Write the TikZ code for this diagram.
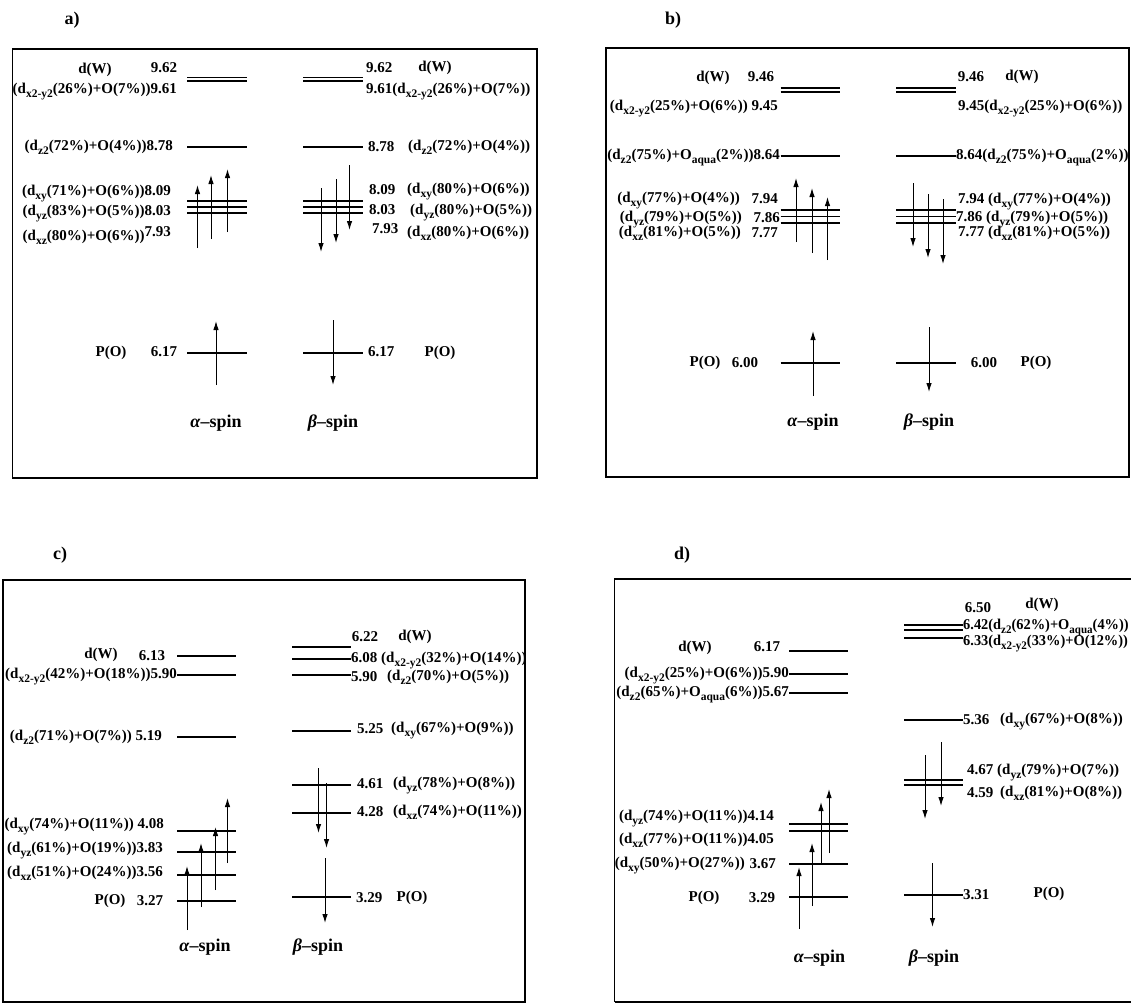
\documentclass[tikz,border=0pt]{standalone}
\usepackage{fontspec}
\setmainfont{Liberation Serif}
\usetikzlibrary{arrows.meta}
\newcommand{\sbs}[1]{\raisebox{-4pt}[0pt][0pt]{\fontsize{11.5}{12}\selectfont #1}}
\newcommand{\orb}[4]{(d\sbs{#1}(#2\%)+O#3(#4\%))}
\newcommand{\aq}{\sbs{aqua}}

\begin{document}
\begin{tikzpicture}[x=1pt,y=-1pt,
    every node/.style={font=\fontsize{15}{16}\selectfont\bfseries, inner sep=0pt},
    level/.style={line width=1.7pt},
    frame/.style={line width=1.8pt},
    up/.style={-{Latex[length=9pt,width=5.5pt]}, line width=1pt},
    down/.style={-{Latex[length=9pt,width=5.5pt]}, line width=1pt},
    spin/.style={font=\fontsize{18}{20}\selectfont\bfseries},
    panel/.style={font=\fontsize{18}{20}\selectfont\bfseries}]
    \useasboundingbox (0,0) rectangle (1131,1005);

    \node[panel] (pa) at (72,20) {a)};
    \draw[frame] (12.5,49) rectangle (537,478);
    \draw[level] (187,77.5) -- (247,77.5) (187,81.2) -- (247,81.2) (187,147) -- (247,147)
        (187,201) -- (247,201) (187,207) -- (247,207) (187,213) -- (247,213) (187,353) -- (247,353);
    \draw[level] (303,77.5) -- (363,77.5) (303,81.2) -- (363,81.2) (303,147) -- (363,147)
        (303,201) -- (363,201) (303,207) -- (363,207) (303,213) -- (363,213) (303,353) -- (363,353);
    \draw[up] (197.5,248) -- (197.5,185);
    \draw[up] (211,239) -- (211,175);
    \draw[up] (227.5,232) -- (227.5,169);
    \draw[up] (216,385) -- (216,321);
    \draw[down] (321,188) -- (321,252);
    \draw[down] (336,179) -- (336,243);
    \draw[down] (349.5,165) -- (349.5,230);
    \draw[down] (333,320) -- (333,385);
    \node (aw1) at (95,70) {d(W)};
    \node (ae1) at (164,68) {9.62};
    \node[anchor=east] (ax1) at (177,90) {\orb{x2-y2}{26}{}{7}9.61};
    \node[anchor=east] (az1) at (173,147) {\orb{z2}{72}{}{4}8.78};
    \node[anchor=east] (axy1) at (171,192) {\orb{xy}{71}{}{6}8.09};
    \node[anchor=east] (ayz1) at (171,212) {\orb{yz}{83}{}{5}8.03};
    \node[anchor=east] (axz1) at (171,235) {\orb{xz}{80}{}{6}\raisebox{4pt}{7.93}};
    \node (ap1) at (111,353) {P(O)};
    \node (an1) at (164,352) {6.17};
    \node[anchor=west] (ae2) at (366,68) {9.62};
    \node (aw2) at (435,68) {d(W)};
    \node[anchor=west] (ax2) at (366,90) {9.61\orb{x2-y2}{26}{}{7}};
    \node[anchor=west] (an2) at (368,147) {8.78};
    \node[anchor=west] (az2) at (408,147) {\orb{z2}{72}{}{4}};
    \node[anchor=west] (an3) at (369,190) {8.09};
    \node[anchor=west] (axy2) at (407,190) {\orb{xy}{80}{}{6}};
    \node[anchor=west] (an4) at (369,210) {8.03};
    \node[anchor=west] (ayz2) at (410,211) {\orb{yz}{80}{}{5}};
    \node[anchor=west] (an5) at (372,229) {7.93};
    \node[anchor=west] (axz2) at (407,233) {\orb{xz}{80}{}{6}};
    \node[anchor=west] (an6) at (368,352) {6.17};
    \node (ap2) at (440,353) {P(O)};
    \node[spin] (asa) at (216,423) {\textit{α}--spin};
    \node[spin] (asb) at (333,423) {\textit{β}--spin};

    \node[panel] (pb) at (673,20) {b)};
    \draw[frame] (606,48) rectangle (1129,477);
    \draw[level] (780.5,88) -- (840,88) (780.5,91.7) -- (840,91.7) (780.5,156) -- (840,156)
        (780.5,210) -- (840,210) (780.5,216.5) -- (840,216.5) (780.5,223) -- (840,223) (780.5,363) -- (840,363);
    \draw[level] (896,88) -- (956,88) (896,91.7) -- (956,91.7) (896,156) -- (956,156)
        (896,210) -- (956,210) (896,216.5) -- (956,216.5) (896,223) -- (956,223) (896,363) -- (956,363);
    \draw[up] (796,242) -- (796,178);
    \draw[up] (812,253) -- (812,188);
    \draw[up] (827.5,260) -- (827.5,197);
    \draw[up] (813,396) -- (813,331);
    \draw[down] (913,183) -- (913,247);
    \draw[down] (928,194) -- (928,258);
    \draw[down] (943,199) -- (943,264);
    \draw[down] (929,327) -- (929,392);
    \node (bw1) at (713,78) {d(W)};
    \node (be1) at (761,77) {9.46};
    \node[anchor=east] (bx1) at (778,107) {\orb{x2-y2}{25}{}{6} 9.45};
    \node[anchor=east] (bz1) at (780,156) {\orb{z2}{75}{\aq}{2}8.64};
    \node[anchor=east] (bxy1) at (740,199) {\orb{xy}{77}{}{4}};
    \node[anchor=east] (bn1) at (778,199) {7.94};
    \node[anchor=east] (byz1) at (742,218) {\orb{yz}{79}{}{5}};
    \node[anchor=east] (bn2) at (780,218) {7.86};
    \node[anchor=east] (bxz1) at (741,233) {\orb{xz}{81}{}{5}};
    \node[anchor=east] (bn3) at (778,233) {7.77};
    \node (bp1) at (705,363) {P(O)};
    \node (bn4) at (745,363) {6.00};
    \node (be2) at (971,77) {9.46};
    \node (bw2) at (1022,77) {d(W)};
    \node[anchor=west] (bx2) at (958,107) {9.45\orb{x2-y2}{25}{}{6}};
    \node[anchor=west] (bz2) at (956,156) {8.64\orb{z2}{75}{\aq}{2}};
    \node[anchor=west] (bxy2) at (958,200) {7.94 \orb{xy}{77}{}{4}};
    \node[anchor=west] (byz2) at (956,218) {7.86 \orb{yz}{79}{}{5}};
    \node[anchor=west] (bxz2) at (958,233) {7.77 \orb{xz}{81}{}{5}};
    \node (bn5) at (984,363) {6.00};
    \node (bp2) at (1036,363) {P(O)};
    \node[spin] (bsa) at (813,422) {\textit{α}--spin};
    \node[spin] (bsb) at (929,422) {\textit{β}--spin};

    \node[panel] (pc) at (60,555) {c)};
    \draw[frame] (3,580) rectangle (525,1002);
    \draw[level] (177,656) -- (236,656) (177,675) -- (236,675) (177,737) -- (236,737)
        (177,831) -- (236,831) (177,852) -- (236,852) (177,875) -- (236,875) (177,901) -- (236,901);
    \draw[level] (292,647) -- (351,647) (292,659) -- (351,659) (292,675) -- (351,675)
        (292,731) -- (351,731) (292,785) -- (351,785) (292,813) -- (351,813) (292,897) -- (351,897);
    \draw[up] (187,930) -- (187,866);
    \draw[up] (201,907) -- (201,843);
    \draw[up] (215.5,890) -- (215.5,827);
    \draw[up] (227.5,863) -- (227.5,798);
    \draw[down] (318.5,768) -- (318.5,833);
    \draw[down] (326.5,783) -- (326.5,848);
    \draw[down] (325,858) -- (325,923);
    \node (cw1) at (101,655) {d(W)};
    \node (ce1) at (152,656) {6.13};
    \node[anchor=east] (cx1) at (177,675) {\orb{x2-y2}{42}{}{18}5.90};
    \node[anchor=east] (cz1) at (162,737) {\orb{z2}{71}{}{7} 5.19};
    \node[anchor=east] (cxy1) at (164,825) {\orb{xy}{74}{}{11} 4.08};
    \node[anchor=east] (cyz1) at (163,849) {\orb{yz}{61}{}{19}3.83};
    \node[anchor=east] (cxz1) at (163,873) {\orb{xz}{51}{}{24}3.56};
    \node (cp1) at (110,901) {P(O)};
    \node (cn1) at (150,901) {3.27};
    \node (ce2) at (365,637) {6.22};
    \node (cw2) at (415,637) {d(W)};
    \node[anchor=west] (cx2) at (351,659) {6.08 \orb{x2-y2}{32}{}{14}};
    \node[anchor=west] (cn2) at (351,677) {5.90};
    \node[anchor=west] (cz2) at (387,677) {\orb{z2}{70}{}{5}};
    \node[anchor=west] (cn3) at (357,729) {5.25};
    \node[anchor=west] (cxy2) at (391,729) {\orb{xy}{67}{}{9}};
    \node[anchor=west] (cn4) at (357,784) {4.61};
    \node[anchor=west] (cyz2) at (393,784) {\orb{yz}{78}{}{8}};
    \node[anchor=west] (cn5) at (357,812) {4.28};
    \node[anchor=west] (cxz2) at (393,812) {\orb{xz}{74}{}{11}};
    \node[anchor=west] (cn6) at (356,898) {3.29};
    \node (cp2) at (412,898) {P(O)};
    \node[spin] (csa) at (205,947) {\textit{α}--spin};
    \node[spin] (csb) at (318,947) {\textit{β}--spin};

    \node[panel] (pd) at (682,555) {d)};
    \draw[frame] (614.5,1002) -- (614.5,579) -- (1145,579) (614.5,1002) -- (1145,1002);
    \draw[level] (789,651) -- (848,651) (789,674) -- (848,674) (789,693) -- (848,693)
        (789,824) -- (848,824) (789,831) -- (848,831) (789,864) -- (848,864) (789,897) -- (848,897);
    \draw[level] (904,625) -- (963,625) (904,630) -- (963,630) (904,638) -- (963,638)
        (904,720) -- (963,720) (904,780) -- (963,780) (904,785) -- (963,785) (904,895) -- (963,895);
    \draw[up] (799,929) -- (799,867);
    \draw[up] (812,906) -- (812,843);
    \draw[up] (821,864) -- (821,802);
    \draw[up] (829,853) -- (829,789);
    \draw[down] (925,755) -- (925,819);
    \draw[down] (941,742) -- (941,806);
    \draw[down] (932.5,863) -- (932.5,927);
    \node (dw1) at (695,648) {d(W)};
    \node (de1) at (767,647) {6.17};
    \node[anchor=east] (dx1) at (789,674) {\orb{x2-y2}{25}{}{6}5.90};
    \node[anchor=east] (dz1) at (789,693) {\orb{z2}{65}{\aq}{6}5.67};
    \node[anchor=east] (dyz1) at (774,817) {\orb{yz}{74}{}{11}4.14};
    \node[anchor=east] (dxz1) at (774,840) {\orb{xz}{77}{}{11}4.05};
    \node[anchor=east] (dxy1) at (745,864) {\orb{xy}{50}{}{27}};
    \node[anchor=east] (dn1) at (776,864) {3.67};
    \node (dp1) at (704,898) {P(O)};
    \node (dn2) at (762,898) {3.29};
    \node (de2) at (978,608) {6.50};
    \node (dw2) at (1042,605) {d(W)};
    \node[anchor=west, xscale=0.96] (dz2) at (963,626) {6.42\orb{z2}{62}{\aq}{4}};
    \node[anchor=west, xscale=0.96] (dx2) at (963,642) {6.33\orb{x2-y2}{33}{}{12}};
    \node[anchor=west] (dn3) at (963,720) {5.36};
    \node[anchor=west] (dxy2) at (1000,720) {\orb{xy}{67}{}{8}};
    \node[anchor=west] (dyz2) at (967,771) {4.67 \orb{yz}{79}{}{7}};
    \node[anchor=west] (dn4) at (967,793) {4.59};
    \node[anchor=west] (dxz2) at (1000,793) {\orb{xz}{81}{}{8}};
    \node[anchor=west] (dn5) at (963,895) {3.31};
    \node (dp2) at (1049,894) {P(O)};
    \node[spin] (dsa) at (819.5,958) {\textit{α}--spin};
    \node[spin] (dsb) at (934,958) {\textit{β}--spin};
\end{tikzpicture}
\end{document}
